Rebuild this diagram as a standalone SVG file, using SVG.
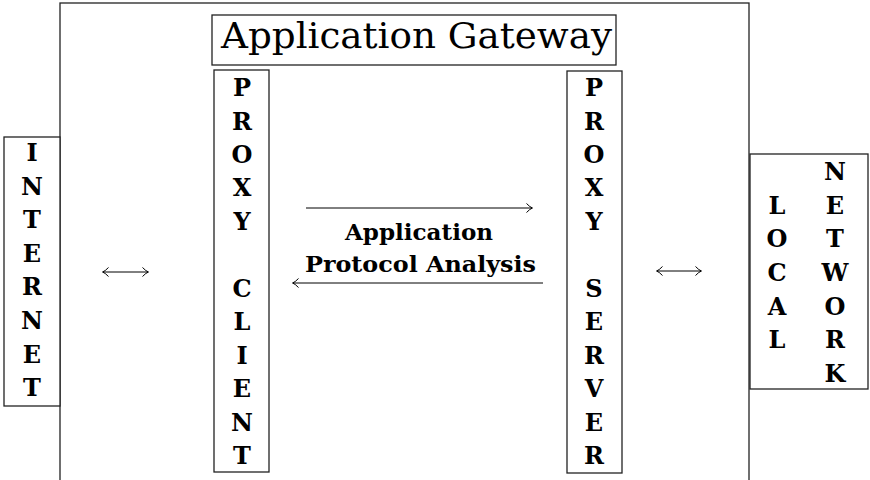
<svg xmlns="http://www.w3.org/2000/svg" width="870" height="480" viewBox="0 0 870 480">
<defs>
<marker id="hd" markerUnits="userSpaceOnUse" markerWidth="12" markerHeight="12" refX="0" refY="0" viewBox="-8 -6 10 12" orient="auto-start-reverse" overflow="visible">
<path d="M -5.5 -4.5 Q -2 -0.8 0.5 0 Q -2 0.8 -5.5 4.5" fill="none" stroke="#000" stroke-width="1"/>
</marker>
</defs>
<style>
.box{fill:#fff;stroke:#222;stroke-width:1.3}
.lt{font-family:"DejaVu Serif","Liberation Serif",serif;font-weight:bold;font-size:24px;text-anchor:middle;fill:#000}
.lbl{font-family:"DejaVu Serif","Liberation Serif",serif;font-weight:bold;font-size:22px;fill:#000}
.ttl{font-family:"DejaVu Serif","Liberation Serif",serif;font-size:35px;fill:#000}
.ar{fill:none;stroke:#000;stroke-width:1;marker-end:url(#hd);marker-start:url(#hd)}
.ar1{fill:none;stroke:#000;stroke-width:1;marker-end:url(#hd)}
</style>
<g id="gateway-frame">
<rect class="box" x="60" y="3" width="689" height="490"/>
</g>
<g id="title">
<rect class="box" x="212" y="15" width="404" height="50"/>
<text class="ttl" x="221" y="48" textLength="391" lengthAdjust="spacingAndGlyphs">Application Gateway</text>
</g>
<g id="internet">
<rect class="box" x="4" y="137" width="56" height="269"/>
<text class="lt" x="32" y="161">I</text>
<text class="lt" x="32" y="194.6">N</text>
<text class="lt" x="32" y="228.2">T</text>
<text class="lt" x="32" y="261.8">E</text>
<text class="lt" x="32" y="295.4">R</text>
<text class="lt" x="32" y="329">N</text>
<text class="lt" x="32" y="362.6">E</text>
<text class="lt" x="32" y="396.2">T</text>
</g>
<g id="proxy-client">
<rect class="box" x="214" y="70" width="55" height="402"/>
<text class="lt" x="242" y="96">P</text>
<text class="lt" x="242" y="129.5">R</text>
<text class="lt" x="242" y="162.9">O</text>
<text class="lt" x="242" y="196.4">X</text>
<text class="lt" x="242" y="229.8">Y</text>
<text class="lt" x="242" y="296.7">C</text>
<text class="lt" x="242" y="330.2">L</text>
<text class="lt" x="242" y="363.6">I</text>
<text class="lt" x="242" y="397.1">E</text>
<text class="lt" x="242" y="430.5">N</text>
<text class="lt" x="242" y="464">T</text>
</g>
<g id="proxy-server">
<rect class="box" x="567" y="71" width="55" height="402"/>
<text class="lt" x="594" y="96">P</text>
<text class="lt" x="594" y="129.5">R</text>
<text class="lt" x="594" y="162.9">O</text>
<text class="lt" x="594" y="196.4">X</text>
<text class="lt" x="594" y="229.8">Y</text>
<text class="lt" x="594" y="296.7">S</text>
<text class="lt" x="594" y="330.2">E</text>
<text class="lt" x="594" y="363.6">R</text>
<text class="lt" x="594" y="397.1">V</text>
<text class="lt" x="594" y="430.5">E</text>
<text class="lt" x="594" y="464">R</text>
</g>
<g id="local-network">
<rect class="box" x="750" y="154" width="118" height="235"/>
<text class="lt" x="777" y="213.7">L</text>
<text class="lt" x="777" y="247.3">O</text>
<text class="lt" x="777" y="281">C</text>
<text class="lt" x="777" y="314.7">A</text>
<text class="lt" x="777" y="348.4">L</text>
<text class="lt" x="835" y="180">N</text>
<text class="lt" x="835" y="213.7">E</text>
<text class="lt" x="835" y="247.3">T</text>
<text class="lt" x="835" y="281">W</text>
<text class="lt" x="835" y="314.7">O</text>
<text class="lt" x="835" y="348.4">R</text>
<text class="lt" x="835" y="382">K</text>
</g>
<g id="connectors">
<path class="ar" d="M 103 272 H 148"/>
<path class="ar" d="M 657 271 H 701"/>
<path class="ar1" d="M 306 208 H 532"/>
<path class="ar1" d="M 543 283 H 293"/>
</g>
<g id="analysis-label">
<text class="lbl" x="345" y="240" textLength="148" lengthAdjust="spacingAndGlyphs">Application</text>
<text class="lbl" x="305" y="272" textLength="231" lengthAdjust="spacingAndGlyphs">Protocol Analysis</text>
</g>
</svg>
